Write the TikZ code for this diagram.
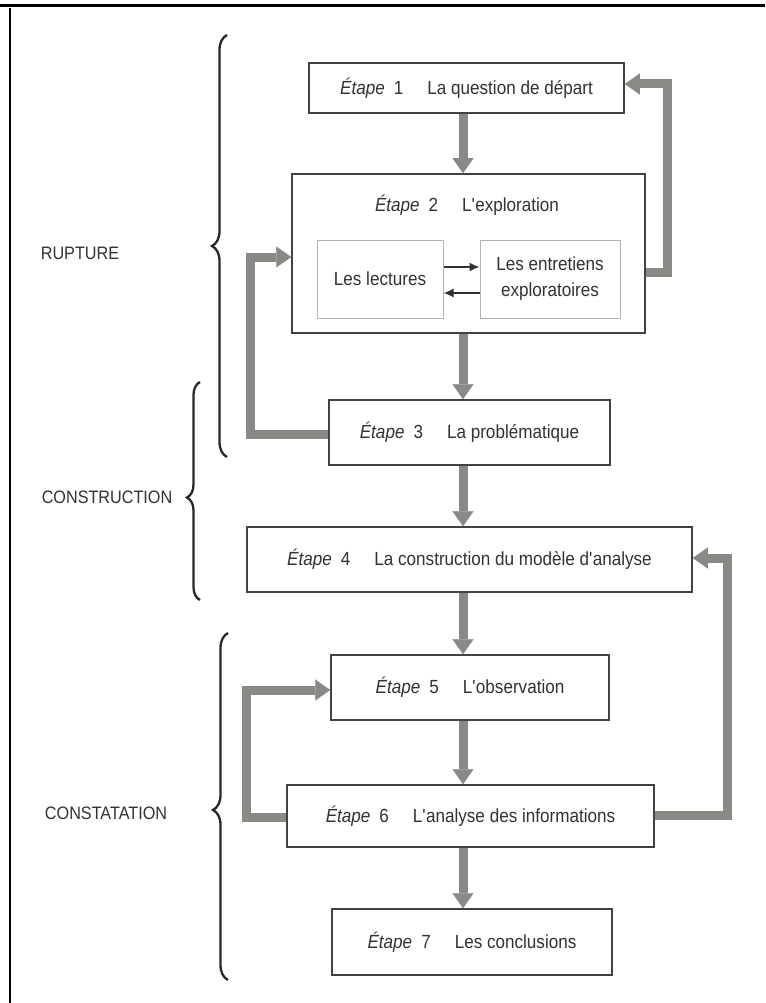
\documentclass[tikz,border=0pt]{standalone}
\usepackage{fontspec}
\setmainfont{Liberation Sans}[FakeStretch=0.9]
\usetikzlibrary{arrows.meta,decorations.pathreplacing,calc}
\definecolor{boxline}{RGB}{66,66,66}
\definecolor{txt}{RGB}{50,50,50}
\definecolor{band}{RGB}{136,138,134}
\definecolor{innerline}{RGB}{178,178,178}
\definecolor{bracecol}{RGB}{40,40,40}
\newcommand{\etape}[2]{\textit{Étape}\hspace{9pt}#1\hspace{24pt}#2}
\newcommand{\apos}{\textquotesingle}
\begin{document}
\begin{tikzpicture}[x=1pt,y=-1pt,
  stepbox/.style={draw=boxline,line width=1.6pt,fill=white,text=txt,inner sep=0pt,
    font=\fontsize{19}{22}\selectfont},
  innerbox/.style={draw=innerline,line width=1pt,fill=white,text=txt,inner sep=0pt,
    align=center,font=\fontsize{19}{26}\selectfont},
  bandarrow/.style={draw=band,line width=9pt,line join=miter,
    -{Triangle[length=15pt,width=21pt,line width=0.1pt]}},
  thinarrow/.style={draw=txt,line width=1.6pt,-{Latex[length=10pt,width=9pt]}},
  bracestyle/.style={draw=bracecol,line width=2.3pt,decorate},
  sidelabel/.style={text=txt,font=\fontsize{18}{20}\selectfont,inner sep=0pt}
]
\useasboundingbox (0,0) rectangle (765,1003);
\fill[white] (0,0) rectangle (765,1003);
% frame
\draw[line width=3pt] (0,6) -- (765,6);
\draw[line width=2pt] (9.5,8) -- (9.5,1003);

% boxes
\node[stepbox,minimum width=315pt,minimum height=50pt] (b1) at (466.5,88) {\etape{1}{La question de départ}};
\node[stepbox,minimum width=353pt,minimum height=159pt] (b2) at (468.5,253.5) {};
\node[text=txt,font=\fontsize{19}{22}\selectfont,inner sep=0pt] (t2) at (467,205) {\etape{2}{L\apos exploration}};
\node[innerbox,minimum width=126pt,minimum height=78pt] (lect) at (380,279) {Les lectures};
\node[innerbox,minimum width=140pt,minimum height=78pt] (ent) at (550,279) {Les entretiens\\exploratoires};
\node[stepbox,minimum width=281pt,minimum height=65pt] (b3) at (469.5,432.5) {\etape{3}{La problématique}};
\node[stepbox,minimum width=445pt,minimum height=65pt] (b4) at (469.5,559.5) {\etape{4}{La construction du modèle d\apos analyse}};
\node[stepbox,minimum width=278pt,minimum height=65pt] (b5) at (470,687.5) {\etape{5}{L\apos observation}};
\node[stepbox,minimum width=367pt,minimum height=62pt] (b6) at (470.5,816) {\etape{6}{L\apos analyse des informations}};
\node[stepbox,minimum width=280pt,minimum height=66pt] (b7) at (472,942) {\etape{7}{Les conclusions}};

% inner arrows
\draw[thinarrow] (lect.east |- 0,267) -- (ent.west |- 0,267);
\draw[thinarrow] (ent.west |- 0,293) -- (lect.east |- 0,293);

% main vertical arrows
\coordinate (ax) at (463,0);
\draw[bandarrow] (b1.south -| ax) -- (b2.north -| ax);
\draw[bandarrow] (b2.south -| ax) -- (b3.north -| ax);
\draw[bandarrow] (b3.south -| ax) -- (b4.north -| ax);
\draw[bandarrow] (b4.south -| ax) -- (b5.north -| ax);
\draw[bandarrow] (b5.south -| ax) -- (b6.north -| ax);
\draw[bandarrow] (b6.south -| ax) -- (b7.north -| ax);

% feedback arrows
\draw[bandarrow] (b2.east |- 0,272) -- (667,272) -- (667,84) -- (b1.east |- 0,84);
\draw[bandarrow] (b3.west |- 0,434) -- (250,434) -- (250,257) -- (b2.west |- 0,257);
\draw[bandarrow] (b6.east |- 0,815) -- (727,815) -- (727,558) -- (b4.east |- 0,558);
\draw[bandarrow] (b6.west |- 0,817) -- (246,817) -- (246,690) -- (b5.west |- 0,690);

% braces
\draw[bracestyle,decoration={brace,amplitude=15pt,aspect=0.5}] (227,457) -- (227,35);
\draw[bracestyle,decoration={brace,amplitude=13pt,aspect=0.47}] (200,600) -- (200,382);
\draw[bracestyle,decoration={brace,amplitude=15pt,aspect=0.49}] (228,980) -- (228,633);

% side labels
\node[sidelabel] (l1) at (80,253) {RUPTURE};
\node[sidelabel] (l2) at (107,497) {CONSTRUCTION};
\node[sidelabel] (l3) at (106,813) {CONSTATATION};
\end{tikzpicture}
\end{document}
